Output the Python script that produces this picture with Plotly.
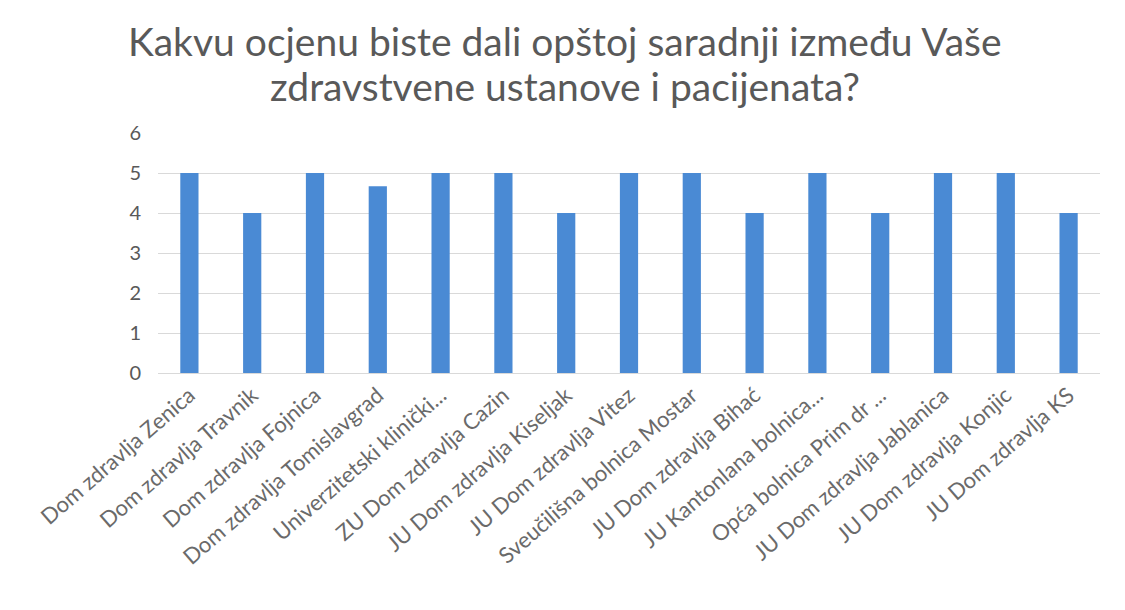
import plotly.graph_objects as go

categories = [
    "Dom zdravlja Zenica",
    "Dom zdravlja Travnik",
    "Dom zdravlja Fojnica",
    "Dom zdravlja Tomislavgrad",
    "Univerzitetski klinički...",
    "ZU Dom zdravlja Cazin",
    "JU Dom zdravlja Kiseljak",
    "JU Dom zdravlja Vitez",
    "Sveučilišna bolnica Mostar",
    "JU Dom zdravlja Bihać",
    "JU Kantonlana bolnica...",
    "Opća bolnica Prim dr ...",
    "JU Dom zdravlja Jablanica",
    "JU Dom zdravlja Konjic",
    "JU Dom zdravlja KS",
]
values = [5, 4, 5, 4.67, 5, 5, 4, 5, 5, 4, 5, 4, 5, 5, 4]
y_ticks = [0, 1, 2, 3, 4, 5, 6]

title_lines = [
    "Kakvu ocjenu biste dali opštoj saradnji između Vaše",
    "zdravstvene ustanove i pacijenata?",
]

FONT = "Lato, Open Sans, sans-serif"
L, R, T, B = 150, 33, 125, 245
plot_w = 1125 - L - R
plot_h = 610 - T - B

fig = go.Figure(
    go.Bar(
        x=categories,
        y=values,
        marker=dict(color="#4a8ad4", line=dict(width=0)),
    )
)

fig.update_layout(
    width=1125,
    height=610,
    margin=dict(l=L, r=R, t=T, b=B, autoexpand=False),
    paper_bgcolor="white",
    plot_bgcolor="white",
    bargap=0.71,
    showlegend=False,
    font=dict(family=FONT, color="#595959"),
)

for i, line in enumerate(title_lines):
    fig.add_annotation(
        text=line,
        xref="paper",
        yref="paper",
        x=(557 - L) / plot_w,
        y=1 + (T - (33 + 45 * i)) / plot_h,
        xanchor="center",
        yanchor="middle",
        showarrow=False,
        align="center",
        font=dict(size=39, color="#595959", family=FONT),
    )

fig.update_xaxes(
    tickangle=-41,
    tickfont=dict(size=22, color="#6a6a6a"),
    showgrid=False,
    showline=True,
    linecolor="#d9d9d9",
    linewidth=1,
    ticks="",
    automargin=False,
)
fig.update_yaxes(
    range=[0, 6],
    tickvals=y_ticks,
    tickfont=dict(size=20, color="#595959"),
    showgrid=True,
    gridcolor="#d9d9d9",
    gridwidth=1,
    zeroline=False,
    showline=False,
    ticks="",
    ticklabelstandoff=16,
    automargin=False,
)

fig.write_html("out.html")
